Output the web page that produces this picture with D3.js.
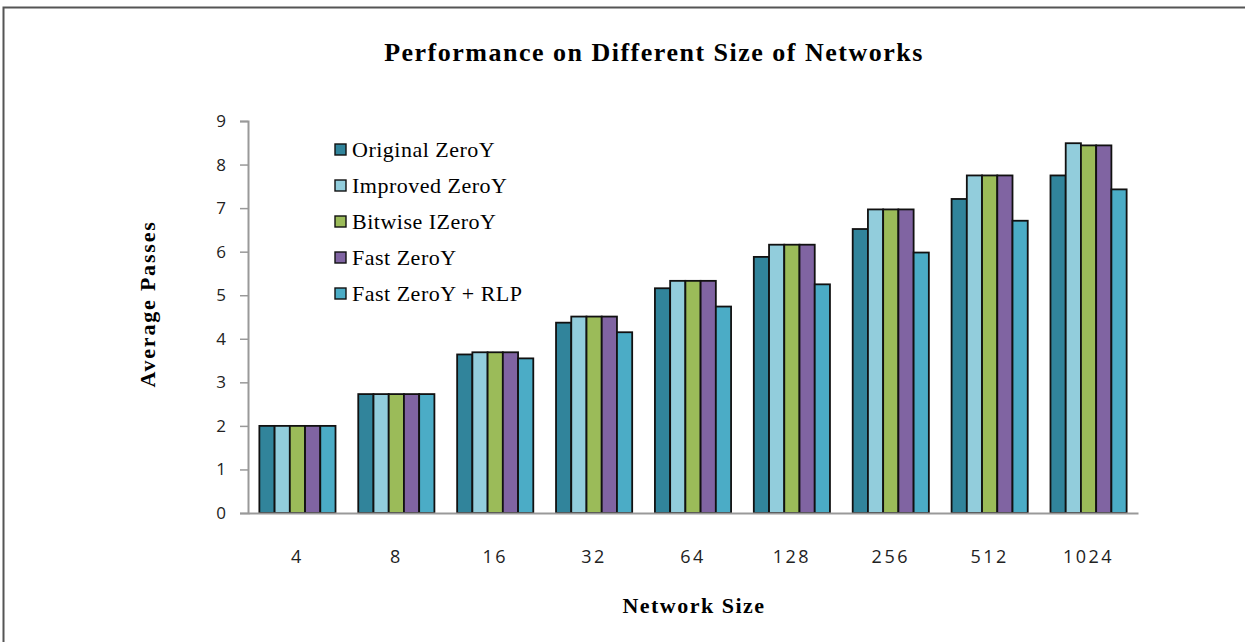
<!DOCTYPE html>
<meta charset="utf-8">
<html>
<head>
<title>Performance on Different Size of Networks</title>
<script src="https://d3js.org/d3.v7.min.js"></script>
<style>
    body {
        margin: 0;
        background: #FFFFFF;
        overflow: hidden;
    }
    svg {
        display: block;
    }
</style>
</head>
<body>
<svg id="chart"></svg>
<script>

var sizes = ["4", "8", "16", "32", "64", "128", "256", "512", "1024"]
var seriesNames = ["Original ZeroY", "Improved ZeroY", "Bitwise IZeroY", "Fast ZeroY", "Fast ZeroY + RLP"]
var seriesColors = ["#31849B", "#92CDDC", "#9BBB59", "#8064A2", "#4BACC6"]

var originalZeroY = [2.0, 2.73, 3.64, 4.37, 5.16, 5.88, 6.52, 7.21, 7.75]
var improvedZeroY = [2.0, 2.73, 3.69, 4.51, 5.33, 6.16, 6.97, 7.75, 8.49]
var bitwiseIZeroY = [2.0, 2.73, 3.69, 4.51, 5.33, 6.16, 6.97, 7.75, 8.44]
var fastZeroY     = [2.0, 2.73, 3.69, 4.51, 5.33, 6.16, 6.97, 7.75, 8.44]
var fastZeroYRLP  = [2.0, 2.73, 3.55, 4.15, 4.74, 5.25, 5.98, 6.71, 7.43]

var yTicks = [0, 1, 2, 3, 4, 5, 6, 7, 8, 9]

var series = [originalZeroY, improvedZeroY, bitwiseIZeroY, fastZeroY, fastZeroYRLP]

var width = 1245
var height = 642
var margin = {left: 248, right: 107, top: 121, bottom: 129}

var svg = d3.select("#chart")
    .attr("width", width)
    .attr("height", height)

// outer frame: only the top and left edges are in view
svg.append("path")
    .attr("d", "M3.5," + height + "V7.5H" + width)
    .attr("fill", "none")
    .attr("stroke", "#555")
    .attr("stroke-width", 2)

var x0 = d3.scaleBand()
    .domain(sizes)
    .range([margin.left, width - margin.right])
    .paddingInner(0.23)
    .paddingOuter(0.115)

var x1 = d3.scaleBand()
    .domain(d3.range(series.length))
    .range([0, x0.bandwidth()])

var y = d3.scaleLinear()
    .domain([0, 9])
    .range([height - margin.bottom, margin.top])

// bars
var groups = svg.append("g")
    .selectAll("g")
    .data(sizes)
    .enter()
    .append("g")
    .attr("transform", d => "translate(" + x0(d) + ",0)")

groups.selectAll("rect")
    .data((d, i) => series.map((s, k) => ({k: k, v: s[i]})))
    .enter()
    .append("rect")
    .attr("x", d => x1(d.k))
    .attr("y", d => y(d.v))
    .attr("width", x1.bandwidth())
    .attr("height", d => y(0) - y(d.v))
    .attr("fill", d => seriesColors[d.k])
    .attr("stroke", "#111")
    .attr("stroke-width", 1.8)

// y axis
var yAxis = svg.append("g")
    .attr("transform", "translate(" + margin.left + ",0)")
    .call(d3.axisLeft(y).tickValues(yTicks).tickSize(8).tickPadding(14))
yAxis.select(".domain").attr("stroke", "#999").attr("stroke-width", 2)
yAxis.selectAll(".tick line").attr("stroke", "#999").attr("stroke-width", 1.5)
yAxis.selectAll("text")
    .attr("font-family", "'Open Sans', sans-serif")
    .attr("font-size", 17)
    .attr("fill", "#222")

// x axis
var xAxis = svg.append("g")
    .attr("transform", "translate(0," + y(0) + ")")
    .call(d3.axisBottom(x0).tickSize(0).tickPadding(37).tickSizeOuter(0))
xAxis.select(".domain").attr("stroke", "#999").attr("stroke-width", 2)
xAxis.selectAll("text")
    .attr("font-family", "'Open Sans', sans-serif")
    .attr("font-size", 18)
    .attr("letter-spacing", 2.5)
    .attr("fill", "#222")

// title
svg.append("text")
    .attr("x", 654)
    .attr("y", 61)
    .attr("text-anchor", "middle")
    .attr("font-family", "'Liberation Serif', serif")
    .attr("font-weight", "bold")
    .attr("font-size", 26)
    .attr("letter-spacing", 1.5)
    .text("Performance on Different Size of Networks")

// axis titles
svg.append("text")
    .attr("x", 694)
    .attr("y", 613)
    .attr("text-anchor", "middle")
    .attr("font-family", "'Liberation Serif', serif")
    .attr("font-weight", "bold")
    .attr("font-size", 22)
    .attr("letter-spacing", 1.5)
    .text("Network Size")

svg.append("text")
    .attr("transform", "translate(155,304) rotate(-90)")
    .attr("text-anchor", "middle")
    .attr("font-family", "'Liberation Serif', serif")
    .attr("font-weight", "bold")
    .attr("font-size", 22)
    .attr("letter-spacing", 1.8)
    .text("Average Passes")

// legend
var legend = svg.append("g")
    .selectAll("g")
    .data(seriesNames)
    .enter()
    .append("g")
    .attr("transform", (d, i) => "translate(335," + (144 + i * 36) + ")")

legend.append("rect")
    .attr("width", 11)
    .attr("height", 11)
    .attr("fill", (d, i) => seriesColors[i])
    .attr("stroke", "#111")
    .attr("stroke-width", 1.4)

legend.append("text")
    .attr("x", 17)
    .attr("y", 13)
    .attr("font-family", "'Liberation Serif', serif")
    .attr("font-size", 22)
    .attr("letter-spacing", 0.5)
    .text(d => d)
</script>
</body>
</html>
